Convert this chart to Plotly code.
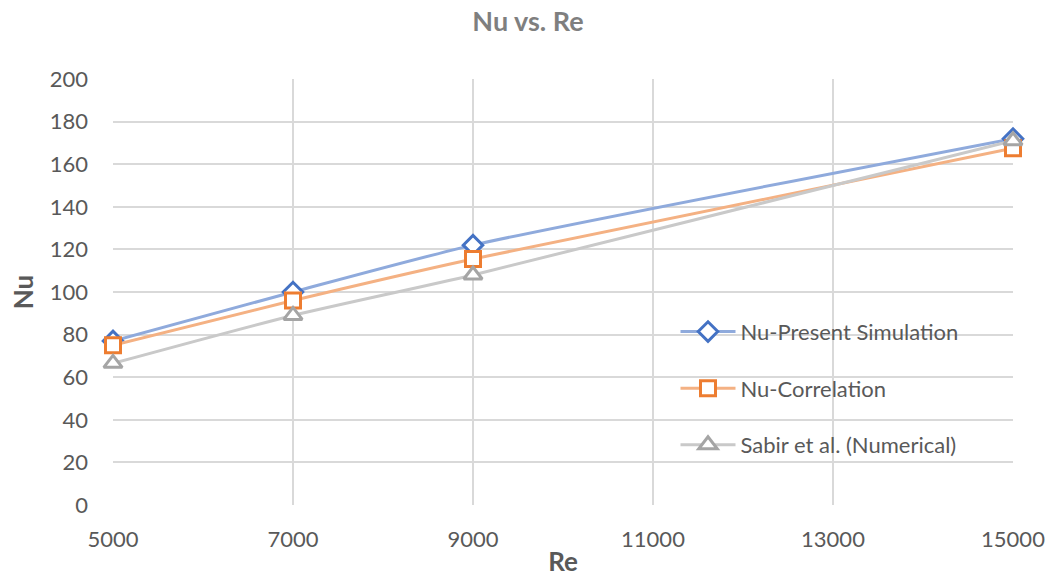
import plotly.graph_objects as go

re_vals = [5000, 7000, 9000, 15000]
nu_present = [77, 100, 122, 172]
nu_correlation = [75, 96, 115.5, 167.5]
nu_sabir = [66.5, 89, 108, 171]

x_ticks = [5000, 7000, 9000, 11000, 13000, 15000]
y_ticks = [0, 20, 40, 60, 80, 100, 120, 140, 160, 180, 200]

FONT = "Lato, 'Open Sans', sans-serif"

fig = go.Figure()
series = [
    ("Nu-Present Simulation", nu_present, "#8FAADC", "#4472C4", "diamond", 15),
    ("Nu-Correlation", nu_correlation, "#F4B183", "#ED7D31", "square", 15),
    ("Sabir et al. (Numerical)", nu_sabir, "#C9C9C9", "#A5A5A5", "triangle-up", 16),
]
for i, (name, ys, lc, mc, sym, sz) in enumerate(series):
    fig.add_trace(go.Scatter(
        x=re_vals, y=ys, name=name, mode="lines+markers",
        line=dict(color=lc, width=3, shape="spline", smoothing=0.6),
        marker=dict(symbol=sym, size=sz, color="white", line=dict(color=mc, width=3)),
        legendgroup=f"g{i}", cliponaxis=False,
    ))

fig.update_layout(
    width=1056, height=577,
    margin=dict(l=113, r=43, t=79, b=72, autoexpand=False),
    paper_bgcolor="white", plot_bgcolor="white",
    font=dict(family=FONT, color="#595959", size=22),
    title=dict(text="<b>Nu vs. Re</b>", x=0.5, xanchor="center", y=0.962, yanchor="middle",
               font=dict(size=27, color="#7F7F7F", family=FONT)),
    xaxis=dict(range=[5000, 15000], tickvals=x_ticks, ticktext=[str(v) for v in x_ticks],
               showgrid=True, gridcolor="#D9D9D9", gridwidth=1.5, zeroline=False,
               showline=False, ticks="", ticklabelstandoff=19, automargin=False,
               tickfont=dict(size=22, color="#595959"),
               title=dict(text="<b>Re</b>", font=dict(size=26, color="#595959"), standoff=8)),
    yaxis=dict(range=[0, 200], tickvals=y_ticks, showgrid=True, gridcolor="#D9D9D9",
               gridwidth=1.5, zeroline=False, showline=False, ticks="", ticklabelstandoff=24,
               automargin=False, tickfont=dict(size=22, color="#595959"),
               title=dict(text="<b>Nu</b>", font=dict(size=26, color="#595959"), standoff=8)),
    legend=dict(x=0.625, y=0.456, xanchor="left", yanchor="top", bgcolor="rgba(0,0,0,0)",
                font=dict(size=22, color="#595959"), tracegroupgap=25, itemwidth=55),
    showlegend=True,
)

fig.write_html("out.html")
